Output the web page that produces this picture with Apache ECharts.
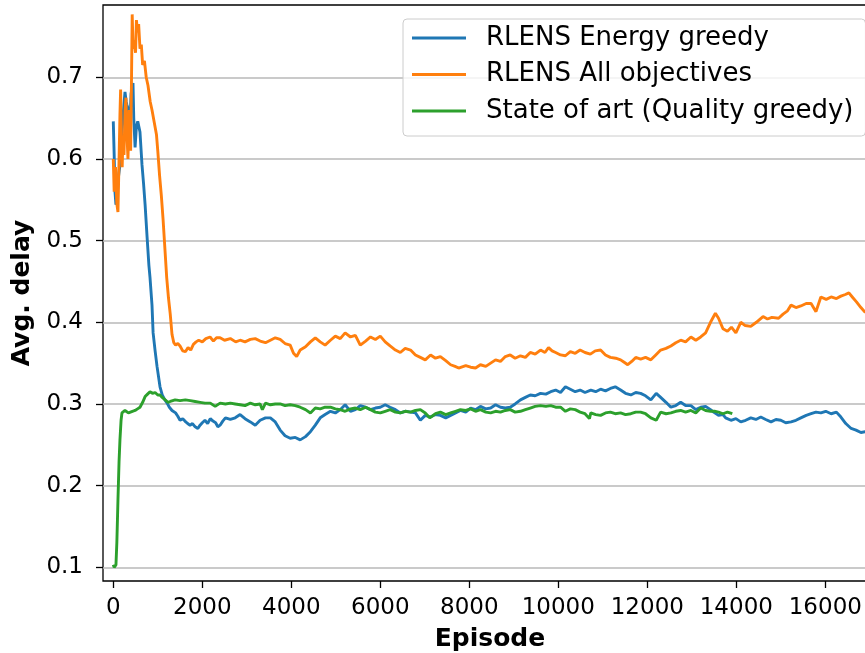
<!DOCTYPE html>
<html>
<head>
<meta charset="utf-8">
<script src="https://cdn.jsdelivr.net/npm/echarts@6/dist/echarts.min.js"></script>
<style>html,body{margin:0;padding:0;background:#fff}#c{width:865px;height:653px}</style>
</head>
<body>
<div id="c"></div>
<script>
var seriesNames = ['RLENS Energy greedy', 'RLENS All objectives', 'State of art (Quality greedy)'];
var xTicks = [0, 2000, 4000, 6000, 8000, 10000, 12000, 14000, 16000];
var yTicks = [0.1, 0.2, 0.3, 0.4, 0.5, 0.6, 0.7];

var energyEp = [0,20,38,60,83,110,150,175,196,230,263,290,308,340,375,400,430,443,460,490,520,550,600,645,680,715,760,800,825,870,895,940,983,1050,1100,1160,1210,1260,1320,1400,1450,1500,1560,1610,1670,1725,1780,1840,1900,1950,2000,2060,2120,2180,2240,2300,2350,2400,2460,2520,2630,2740,2850,2960,3080,3190,3300,3420,3530,3640,3750,3860,3975,4090,4200,4320,4430,4540,4650,4760,4880,4990,5100,5210,5330,5440,5550,5670,5780,5890,6000,6110,6220,6340,6450,6560,6680,6790,6900,7010,7130,7240,7350,7470,7580,7690,7800,7920,8030,8140,8250,8370,8480,8590,8700,8810,8920,9030,9150,9260,9370,9480,9600,9720,9830,9940,10050,10160,10270,10380,10490,10600,10730,10840,10950,11060,11170,11280,11400,11510,11630,11740,11850,11960,12080,12200,12300,12420,12530,12640,12750,12860,12980,13090,13200,13310,13420,13490,13600,13700,13760,13880,13990,14100,14210,14325,14440,14550,14660,14780,14890,15000,15110,15230,15340,15450,15570,15680,15790,15900,16010,16130,16250,16350,16460,16580,16690,16800,16900];
var energyVal = [0.646,0.605,0.560,0.544,0.552,0.575,0.593,0.620,0.633,0.660,0.682,0.670,0.666,0.660,0.645,0.680,0.690,0.693,0.650,0.614,0.640,0.646,0.633,0.593,0.570,0.544,0.504,0.470,0.455,0.421,0.387,0.365,0.346,0.321,0.311,0.305,0.301,0.296,0.292,0.289,0.285,0.280,0.282,0.279,0.276,0.274,0.276,0.272,0.270,0.274,0.277,0.280,0.276,0.282,0.279,0.277,0.272,0.274,0.279,0.283,0.281,0.283,0.287,0.282,0.278,0.274,0.280,0.283,0.283,0.278,0.268,0.261,0.258,0.259,0.256,0.260,0.266,0.274,0.283,0.287,0.291,0.289,0.293,0.299,0.291,0.293,0.298,0.296,0.293,0.295,0.296,0.299,0.296,0.293,0.289,0.291,0.290,0.289,0.280,0.286,0.284,0.287,0.286,0.283,0.286,0.289,0.292,0.290,0.295,0.293,0.297,0.294,0.295,0.299,0.296,0.295,0.296,0.300,0.305,0.308,0.311,0.310,0.313,0.312,0.315,0.317,0.314,0.321,0.318,0.315,0.317,0.314,0.317,0.315,0.318,0.316,0.319,0.321,0.317,0.313,0.311,0.314,0.313,0.310,0.305,0.313,0.308,0.302,0.296,0.298,0.302,0.298,0.298,0.293,0.296,0.297,0.293,0.290,0.286,0.287,0.283,0.280,0.282,0.278,0.280,0.283,0.281,0.284,0.281,0.278,0.281,0.280,0.277,0.278,0.280,0.283,0.286,0.288,0.290,0.289,0.291,0.288,0.290,0.284,0.276,0.270,0.268,0.265,0.266];

var allEp = [0,20,50,80,105,130,150,165,180,200,215,240,265,285,300,330,360,390,410,425,445,470,500,520,545,570,600,630,660,700,740,780,830,870,920,970,1000,1040,1080,1120,1160,1200,1240,1280,1320,1360,1400,1450,1500,1560,1620,1680,1740,1800,1860,1920,2000,2080,2175,2250,2320,2400,2500,2630,2750,2850,2960,3080,3190,3300,3420,3530,3640,3750,3860,3975,4050,4120,4200,4320,4430,4540,4650,4760,4880,4990,5100,5210,5330,5440,5550,5670,5780,5890,6000,6110,6220,6340,6450,6560,6680,6790,6900,7010,7130,7240,7350,7470,7580,7680,7760,7920,8030,8140,8250,8370,8480,8590,8700,8810,8920,9030,9150,9260,9370,9480,9600,9700,9780,9860,9940,10050,10160,10270,10380,10490,10600,10720,10830,10950,11060,11170,11290,11400,11480,11560,11650,11740,11850,11960,12080,12190,12300,12420,12530,12640,12750,12860,12980,13090,13200,13310,13420,13530,13600,13700,13800,13890,13990,14100,14200,14325,14450,14600,14700,14800,14950,15050,15150,15230,15340,15450,15570,15680,15790,15900,16020,16130,16250,16350,16450,16530,16620,16700,16800,16900];
var allVal = [0.600,0.560,0.590,0.545,0.535,0.600,0.655,0.685,0.640,0.590,0.620,0.605,0.660,0.675,0.640,0.600,0.660,0.610,0.700,0.777,0.735,0.745,0.730,0.770,0.755,0.765,0.735,0.740,0.715,0.720,0.700,0.690,0.670,0.660,0.645,0.630,0.610,0.580,0.555,0.525,0.490,0.455,0.430,0.410,0.385,0.375,0.372,0.374,0.371,0.365,0.364,0.369,0.366,0.373,0.376,0.378,0.376,0.380,0.382,0.377,0.381,0.381,0.378,0.380,0.376,0.378,0.376,0.379,0.380,0.377,0.375,0.378,0.381,0.379,0.374,0.372,0.362,0.358,0.366,0.370,0.376,0.381,0.376,0.372,0.378,0.383,0.380,0.387,0.382,0.384,0.372,0.377,0.382,0.379,0.383,0.376,0.371,0.366,0.363,0.368,0.366,0.360,0.357,0.354,0.360,0.356,0.358,0.353,0.348,0.346,0.344,0.347,0.345,0.344,0.348,0.346,0.350,0.354,0.352,0.358,0.360,0.356,0.359,0.357,0.363,0.361,0.366,0.363,0.369,0.365,0.363,0.360,0.359,0.364,0.362,0.366,0.363,0.361,0.365,0.366,0.360,0.357,0.356,0.354,0.351,0.348,0.352,0.357,0.355,0.357,0.354,0.360,0.366,0.368,0.371,0.375,0.378,0.376,0.382,0.378,0.382,0.387,0.400,0.411,0.405,0.392,0.389,0.394,0.387,0.400,0.396,0.395,0.400,0.407,0.404,0.406,0.405,0.410,0.414,0.421,0.418,0.420,0.423,0.423,0.413,0.431,0.428,0.431,0.429,0.432,0.434,0.436,0.430,0.425,0.418,0.412];

var soaEp = [0,20,40,60,80,105,130,150,175,195,230,263,300,340,375,430,490,545,600,660,715,770,825,880,940,1000,1050,1100,1165,1230,1280,1390,1500,1620,1730,1840,1950,2060,2180,2290,2400,2520,2630,2740,2850,2960,3080,3190,3300,3350,3420,3530,3640,3750,3860,3975,4090,4200,4320,4430,4540,4650,4760,4880,4990,5100,5210,5330,5440,5550,5670,5780,5890,6000,6110,6220,6340,6450,6560,6680,6790,6900,7010,7110,7240,7350,7470,7580,7690,7800,7920,8030,8140,8250,8370,8480,8590,8700,8810,8920,9030,9150,9260,9370,9480,9600,9720,9830,9940,10050,10160,10270,10380,10490,10600,10700,10730,10840,10950,11060,11170,11280,11400,11510,11630,11740,11850,11960,12080,12200,12300,12420,12530,12640,12750,12860,12980,13090,13200,13310,13420,13510,13600,13700,13800,13910];
var soaVal = [0.103,0.100,0.100,0.103,0.130,0.182,0.230,0.256,0.280,0.289,0.290,0.292,0.290,0.289,0.289,0.291,0.292,0.294,0.296,0.302,0.309,0.312,0.315,0.313,0.314,0.311,0.311,0.308,0.305,0.302,0.303,0.305,0.304,0.305,0.304,0.303,0.302,0.301,0.301,0.297,0.301,0.300,0.301,0.300,0.299,0.298,0.301,0.299,0.300,0.293,0.301,0.299,0.300,0.300,0.298,0.299,0.298,0.296,0.293,0.289,0.295,0.294,0.296,0.296,0.294,0.293,0.291,0.294,0.295,0.293,0.296,0.293,0.290,0.289,0.291,0.293,0.290,0.289,0.291,0.290,0.292,0.293,0.289,0.283,0.288,0.290,0.287,0.289,0.291,0.293,0.292,0.294,0.291,0.293,0.290,0.289,0.291,0.290,0.292,0.293,0.290,0.291,0.293,0.295,0.297,0.298,0.297,0.298,0.296,0.296,0.291,0.294,0.293,0.290,0.288,0.282,0.289,0.287,0.286,0.289,0.290,0.288,0.289,0.287,0.288,0.290,0.290,0.288,0.283,0.280,0.290,0.288,0.289,0.291,0.292,0.290,0.292,0.289,0.295,0.292,0.291,0.291,0.290,0.288,0.290,0.288,0.286];

function pairs(ep, val) { return ep.map(function (e, i) { return [e, val[i]]; }); }

var FONT = 'DejaVu Sans';
var colors = ['#1f77b4', '#ff7f0e', '#2ca02c'];
var chart = echarts.init(document.getElementById('c'), null, { renderer: 'canvas' });
chart.setOption({
  animation: false,
  color: colors,
  textStyle: { fontFamily: FONT },
  grid: { left: 103, right: -5, top: 5, bottom: 72, containLabel: false, outerBoundsMode: 'none', show: true, borderColor: '#000', borderWidth: 1.3, backgroundColor: 'transparent' },
  legend: {
    orient: 'vertical', left: 403, top: 19,
    data: seriesNames,
    icon: 'rect', itemWidth: 54, itemHeight: 3, itemGap: 10.5,
    padding: [6, 12, 12, 9],
    backgroundColor: 'rgba(255,255,255,0.8)', borderColor: '#cccccc', borderWidth: 1, borderRadius: 4,
    textStyle: { fontFamily: FONT, fontSize: 26, color: '#000', lineHeight: 25, padding: [0, 0, 0, 15] }
  },
  xAxis: {
    type: 'value', min: -231, max: 17004,
    name: 'Episode', nameLocation: 'middle', nameGap: 46,
    nameTextStyle: { fontFamily: FONT, fontSize: 25, fontWeight: 'bold', color: '#000', padding: [0, 0, 0, 7] },
    axisLine: { show: false, onZero: false },
    axisTick: { show: true, inside: false, length: 7, lineStyle: { color: '#000', width: 1.3 }, customValues: xTicks },
    axisLabel: { fontFamily: FONT, fontSize: 23, color: '#000', margin: 16, customValues: xTicks, formatter: function (v) { return String(v); } },
    splitLine: { show: false }
  },
  yAxis: {
    type: 'value', min: 0.0832, max: 0.7885,
    name: 'Avg. delay', nameLocation: 'middle', nameGap: 68,
    nameTextStyle: { fontFamily: FONT, fontSize: 25, fontWeight: 'bold', color: '#000' },
    axisLine: { show: false, onZero: false },
    axisTick: { show: true, inside: false, length: 7, lineStyle: { color: '#000', width: 1.3 }, customValues: yTicks },
    axisLabel: { fontFamily: FONT, fontSize: 23, color: '#000', margin: 20, customValues: yTicks, formatter: function (v) { return v.toFixed(1); } },
    splitLine: { show: true, lineStyle: { color: '#b8b8b8', width: 1.5 } }
  },
  series: [
    { name: seriesNames[0], type: 'line', data: pairs(energyEp, energyVal), showSymbol: false, lineStyle: { width: 2.9, color: colors[0] }, itemStyle: { color: colors[0] } },
    { name: seriesNames[1], type: 'line', data: pairs(allEp, allVal), showSymbol: false, lineStyle: { width: 2.9, color: colors[1] }, itemStyle: { color: colors[1] } },
    { name: seriesNames[2], type: 'line', data: pairs(soaEp, soaVal), showSymbol: false, lineStyle: { width: 2.9, color: colors[2] }, itemStyle: { color: colors[2] } }
  ]
});
</script>
</body>
</html>
